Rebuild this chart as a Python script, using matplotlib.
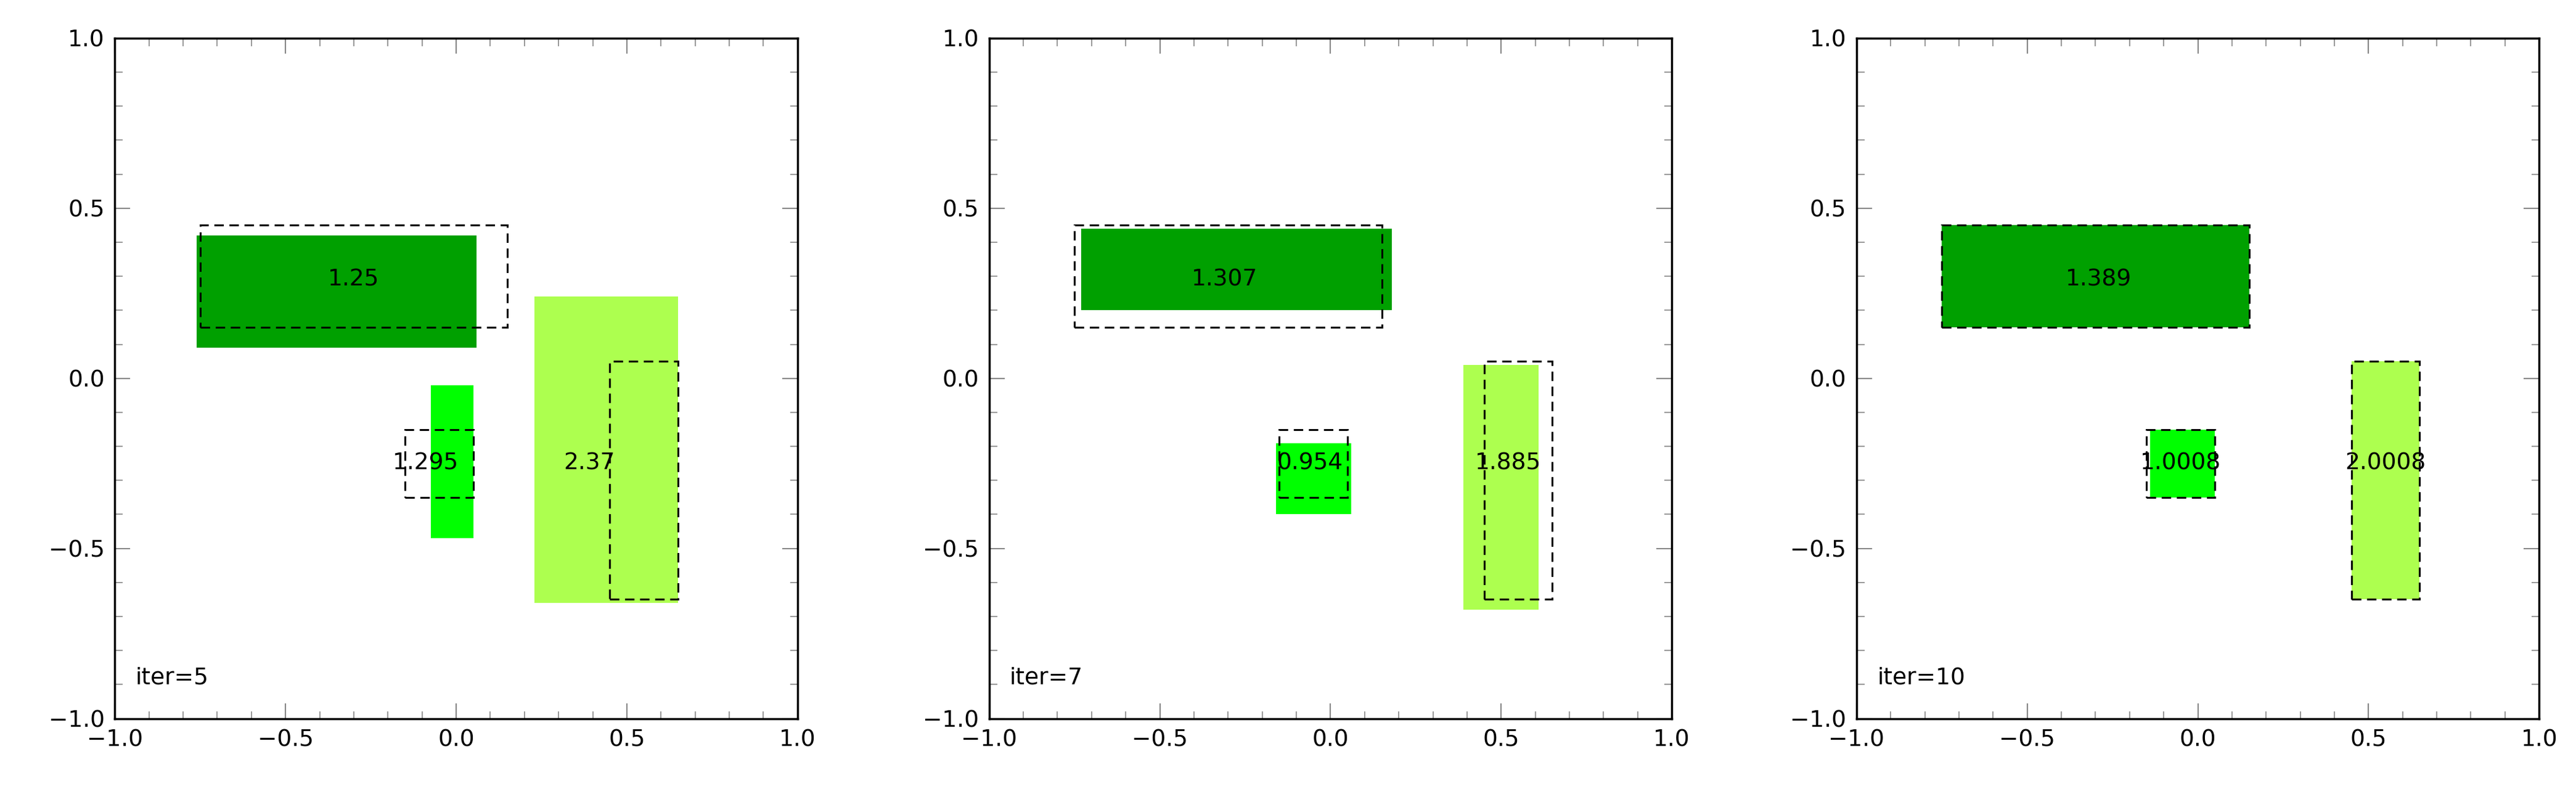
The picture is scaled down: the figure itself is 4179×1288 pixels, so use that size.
import matplotlib
matplotlib.use("Agg")
import matplotlib.pyplot as plt
from matplotlib.patches import Rectangle
from matplotlib.ticker import MultipleLocator

iters = ["iter=5", "iter=7", "iter=10"]
colors = ["#00a000", "#00ff00", "#adff4f"]
# target (dashed) rectangles: x0, x1, y0, y1
targets = [(-0.75, 0.15, 0.15, 0.45), (-0.15, 0.05, -0.35, -0.15), (0.45, 0.65, -0.65, 0.05)]
# filled rectangles per panel: x0, x1, y0, y1
rects = [
    [(-0.76, 0.06, 0.09, 0.42), (-0.075, 0.05, -0.47, -0.02), (0.23, 0.65, -0.66, 0.24)],
    [(-0.73, 0.18, 0.20, 0.44), (-0.16, 0.06, -0.40, -0.19), (0.39, 0.61, -0.68, 0.04)],
    [(-0.75, 0.15, 0.15, 0.45), (-0.14, 0.05, -0.35, -0.15), (0.45, 0.65, -0.65, 0.05)],
]
labels = [["1.25", "1.295", "2.37"], ["1.307", "0.954", "1.885"], ["1.389", "1.0008", "2.0008"]]
label_pos = [
    [(-0.30, 0.29), (-0.09, -0.25), (0.39, -0.25)],
    [(-0.31, 0.29), (-0.06, -0.25), (0.52, -0.25)],
    [(-0.29, 0.29), (-0.05, -0.25), (0.55, -0.25)],
]

fig = plt.figure(figsize=(41.79, 12.88), dpi=100)
lefts = [0.0446, 0.384, 0.7207]
for i in range(3):
    ax = fig.add_axes([lefts[i], 0.095, 0.265, 0.857])
    ax.set_xlim(-1, 1); ax.set_ylim(-1, 1)
    for (x0, x1, y0, y1), c in zip(rects[i], colors):
        ax.add_patch(Rectangle((x0, y0), x1 - x0, y1 - y0, facecolor=c, edgecolor="none", zorder=1))
    for (x0, x1, y0, y1) in targets:
        ax.add_patch(Rectangle((x0, y0), x1 - x0, y1 - y0, fill=False, edgecolor="black",
                               lw=2.2, ls=(0, (5, 3)), zorder=2))
    for t, (x, y) in zip(labels[i], label_pos[i]):
        ax.text(x, y, t, ha="center", va="center", fontsize=27, zorder=3)
    ax.text(-0.94, -0.88, iters[i], fontsize=27, ha="left", va="center")
    ax.xaxis.set_major_locator(MultipleLocator(0.5))
    ax.yaxis.set_major_locator(MultipleLocator(0.5))
    ax.xaxis.set_minor_locator(MultipleLocator(0.1))
    ax.yaxis.set_minor_locator(MultipleLocator(0.1))
    ax.tick_params(which="both", direction="in", top=True, right=True, color="#888888", labelsize=27)
    ax.tick_params(which="major", length=18, width=1.5, pad=12)
    ax.tick_params(which="minor", length=9, width=1.2)
    for s in ax.spines.values():
        s.set_linewidth(2.5)
fig.savefig("out.png", dpi=100)
